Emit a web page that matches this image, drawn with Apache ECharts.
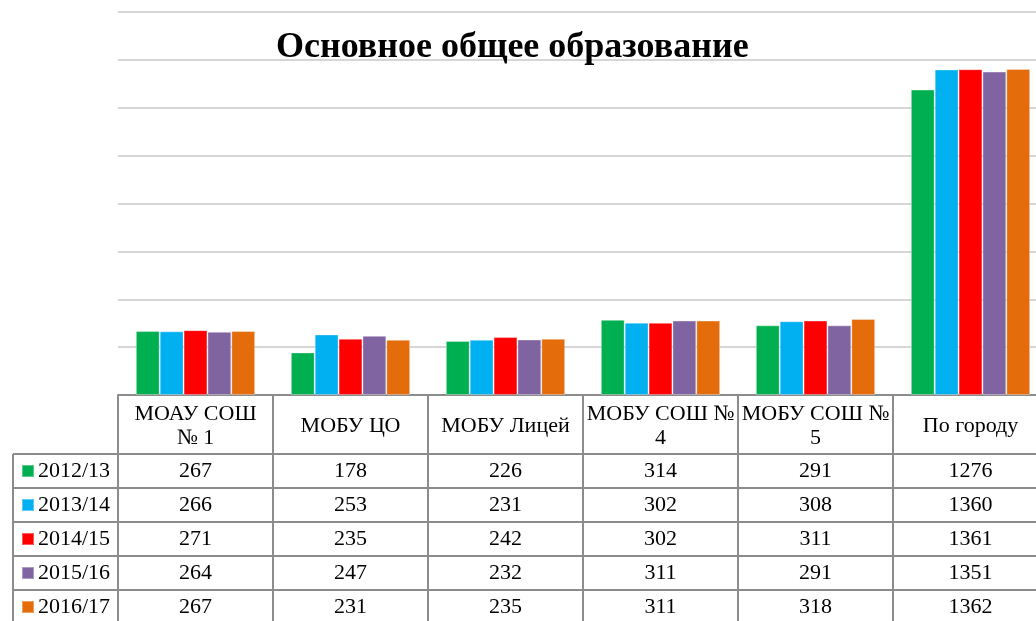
<!DOCTYPE html>
<html>
<head>
<meta charset="utf-8">
<script src="https://cdn.jsdelivr.net/npm/echarts@6/dist/echarts.min.js"></script>
<style>
  html, body { margin: 0; padding: 0; background: #fff; }
  #chart { width: 1036px; height: 621px; }
</style>
</head>
<body>
<div id="chart"></div>
<script>
// данные
var categories = ['МОАУ СОШ\n№ 1', 'МОБУ ЦО', 'МОБУ Лицей', 'МОБУ СОШ №\n4', 'МОБУ СОШ №\n5', 'По городу'];
var years = ['2012/13', '2013/14', '2014/15', '2015/16', '2016/17'];
var v2012 = [267, 178, 226, 314, 291, 1276];
var v2013 = [266, 253, 231, 302, 308, 1360];
var v2014 = [271, 235, 242, 302, 311, 1361];
var v2015 = [264, 247, 232, 311, 291, 1351];
var v2016 = [267, 231, 235, 311, 318, 1362];
var values = [v2012, v2013, v2014, v2015, v2016];
var colors = ['#00B050', '#00B0F0', '#FF0000', '#8064A2', '#E46C0A'];

var FONT = 'Liberation Serif';
var lineColor = '#8c8c8c';
var tableTop = 395, headerH = 59, rowH = 34, tableLeft = 13;

var myChart = echarts.init(document.getElementById('chart'));

var series = years.map(function (y, i) {
    return {
        name: y,
        type: 'bar',
        data: values[i],
        barGap: '0%',
        barCategoryGap: '23%',
        itemStyle: { color: colors[i], borderColor: 'rgba(255,255,255,0.35)', borderWidth: 1 }
    };
});

var option = {
    animation: false,
    color: colors,
    title: {
        text: 'Основное общее образование',
        left: 276,
        top: 30,
        padding: 0,
        textStyle: { fontFamily: FONT, fontWeight: 'bold', fontSize: 36, color: '#000' }
    },
    legend: {
        orient: 'vertical',
        left: 21,
        top: tableTop + headerH + 6,
        padding: 0,
        itemWidth: 12,
        itemHeight: 12,
        itemGap: 12,
        icon: 'rect',
        selectedMode: false,
        textStyle: { fontFamily: FONT, fontSize: 22, lineHeight: 22, color: '#000', padding: [0, 0, 0, -1] },
        data: years
    },
    grid: { left: 118, top: 12, width: 930, height: 383, containLabel: false, outerBoundsMode: 'none' },
    xAxis: {
        type: 'category',
        data: categories,
        axisLine: { show: true, lineStyle: { color: lineColor, width: 2 } },
        axisTick: { show: true, interval: 0, length: 226, lineStyle: { color: lineColor, width: 2 } },
        axisLabel: {
            interval: 0,
            margin: 31,
            verticalAlign: 'middle',
            fontFamily: FONT,
            fontSize: 22,
            lineHeight: 24,
            color: '#000'
        }
    },
    yAxis: {
        type: 'value',
        min: 0,
        max: 1600,
        interval: 200,
        axisLabel: { show: false },
        axisLine: { show: false },
        axisTick: { show: false },
        splitLine: { lineStyle: { color: '#d6d6d6', width: 2 } }
    },
    series: series
};
myChart.setOption(option);

// таблица данных
var graphics = [];
var W = 1036;
for (var r = 0; r <= years.length; r++) {
    var y = tableTop + headerH + r * rowH;
    graphics.push({
        type: 'line', silent: true,
        shape: { x1: tableLeft, y1: y, x2: W, y2: y },
        style: { stroke: lineColor, lineWidth: 2 }
    });
}
graphics.push({
    type: 'line', silent: true,
    shape: { x1: tableLeft, y1: tableTop + headerH, x2: tableLeft, y2: 621 },
    style: { stroke: lineColor, lineWidth: 2 }
});
years.forEach(function (yr, r) {
    var cy = tableTop + headerH + r * rowH + rowH / 2;
    categories.forEach(function (c, i) {
        var cx = myChart.convertToPixel({ xAxisIndex: 0 }, i);
        graphics.push({
            type: 'text', silent: true,
            x: cx, y: cy,
            style: {
                text: String(values[r][i]),
                fontFamily: FONT, fontSize: 22,
                fill: '#000', align: 'center', verticalAlign: 'middle'
            }
        });
    });
});
myChart.setOption({ graphic: graphics });
</script>
</body>
</html>
